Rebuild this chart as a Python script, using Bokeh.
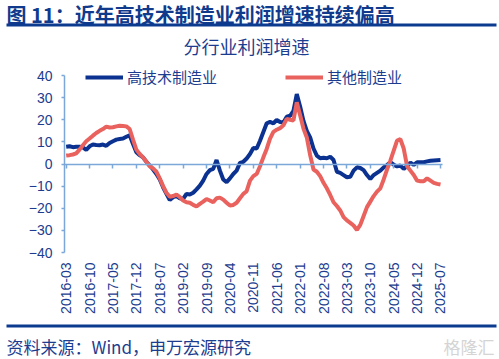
import numpy as np
import pandas as pd
from bokeh.plotting import figure
from bokeh.models import (Label, Legend, LegendItem, FixedTicker, LinearAxis, BoxAnnotation)
from bokeh.embed import file_html
from bokeh.resources import INLINE

# ---- data ----
months = [str(p) for p in pd.period_range("2016-03", "2025-07", freq="M")]
high_tech = [7.8, 8.0, 7.6, 7.8, 7.8, 7.5, 6.4, 8.0, 8.8, 8.6, 8.5, 8.8, 8.2, 9.5, 10.3, 11.0,
             11.3, 11.5, 12.3, 13.0, 9.0, 5.3, 4.0, 3.0, 1.0, -0.7, -2.5, -4.5, -7.0, -10.5,
             -13.5, -16.3, -15.0, -14.5, -15.5, -15.8, -13.5, -13.8, -13.0, -11.5, -9.8, -7.5,
             -4.5, -2.8, -2.2, 1.8, -3.0, -7.0, -8.2, -6.5, -4.5, -3.0, 0.5, 1.0, 2.5, 4.5,
             7.2, 7.0, 10.5, 14.5, 18.4, 19.0, 18.4, 19.9, 19.0, 18.8, 21.4, 21.8, 24.0, 31.6,
             26.0, 19.5, 15.0, 12.0, 7.0, 3.8, 2.6, 2.8, 2.6, 3.3, 1.8, -3.5, -4.0, -5.0,
             -6.0, -5.8, -3.0, -1.5, -1.8, -2.8, -5.0, -6.8, -5.0, -4.0, -3.0, -1.5, -0.5,
             0.8, -0.3, -1.1, -0.7, -2.2, -0.9, 0.6, -0.4, 0.8, 0.8, 0.8, 1.2, 1.5, 1.6, 1.7, 1.8]
other_mfg = [3.8, 4.0, 4.3, 4.8, 6.5, 8.5, 10.3, 11.5, 12.8, 14.0, 15.0, 15.8, 16.9, 16.5,
             16.6, 17.0, 17.3, 17.2, 17.0, 15.8, 11.0, 6.5, 4.5, 3.0, 1.0, -1.0, -2.0, -3.5,
             -6.5, -10.0, -13.0, -14.8, -14.5, -13.8, -15.0, -16.5, -17.3, -17.5, -18.5, -19.2,
             -18.0, -17.0, -15.8, -16.5, -17.3, -15.5, -15.2, -16.1, -17.5, -18.8, -18.5, -17.5,
             -15.5, -13.5, -12.3, -7.5, -5.5, -4.5, -1.0, 3.0, 6.8, 11.5, 14.5, 15.5, 16.2,
             17.5, 20.4, 20.0, 19.7, 27.9, 22.0, 16.0, 12.0, 4.0, -2.5, -3.5, -5.5, -8.5, -11.0,
             -14.0, -17.3, -19.0, -21.0, -24.0, -25.5, -26.6, -27.8, -29.8, -27.5, -23.5, -19.5,
             -17.0, -14.5, -12.5, -11.0, -7.0, -2.5, 1.5, 6.0, 10.6, 11.2, 7.0, -1.0, -3.0, -5.0,
             -7.5, -7.8, -7.8, -6.5, -7.5, -8.5, -9.0, -9.3]
series_names = ["高技术制造业", "其他制造业"]
y_ticks = [-40, -30, -20, -10, 0, 10, 20, 30, 40]
tick_idx = list(range(0, len(months), 7))
tick_labels = [months[i] for i in tick_idx]

BLUE = "#0b3290"
RED = "#e9625e"
AXIS = "#7ba7d9"
TEXT = "#1c3d8f"
RULE = "#0b3a8f"
FONT = "Liberation Sans"
CJK = "Noto Sans CJK SC"

W, H = 499, 359
# plotting area in page pixels (the whole canvas is the frame; axes are pinned)
FL, FR, FT, FB = 64, 442, 75, 252
X0, X1 = -0.5, 112.6
Y0, Y1 = -40, 40
kx = (FR - FL) / (X1 - X0)
ky = (FB - FT) / (Y1 - Y0)
x_range = (X0 - FL / kx, X1 + (W - FR) / kx)
y_range = (Y0 - (H - FB) / ky, Y1 + FT / ky)

x = list(range(len(months)))

p = figure(width=W, height=H, output_backend="svg", toolbar_location=None,
           x_range=x_range, y_range=y_range,
           min_border=0, min_border_left=0, min_border_right=0,
           min_border_top=0, min_border_bottom=0)
p.outline_line_color = None
p.xgrid.visible = False
p.ygrid.visible = False

# bottom axis: labels only, pinned at y = -40
xa = p.xaxis[0]
xa.fixed_location = Y0
xa.ticker = FixedTicker(ticks=tick_idx)
xa.major_label_overrides = {i: l for i, l in zip(tick_idx, tick_labels)}
xa.major_label_orientation = np.pi / 2
xa.axis_line_color = None
xa.major_tick_line_color = None
xa.minor_tick_line_color = None
xa.major_tick_out = 0
xa.major_tick_in = 0
xa.major_label_standoff = 10
xa.major_label_text_font = FONT
xa.major_label_text_font_size = "14px"
xa.major_label_text_color = TEXT

# zero-line axis with ticks
za = LinearAxis(ticker=FixedTicker(ticks=tick_idx), fixed_location=0, bounds=(X0, X1))
za.axis_line_color = AXIS
za.axis_line_width = 1.5
za.major_tick_line_color = AXIS
za.major_tick_line_width = 1.5
za.major_tick_out = 4
za.major_tick_in = 0
za.minor_tick_line_color = None
za.major_label_text_font_size = "0px"
za.major_label_text_color = None
p.add_layout(za, "below")

ya = p.yaxis[0]
ya.fixed_location = X0
ya.bounds = (Y0, Y1)
ya.ticker = FixedTicker(ticks=y_ticks)
ya.axis_line_color = AXIS
ya.axis_line_width = 1.5
ya.major_tick_line_color = AXIS
ya.major_tick_line_width = 1.5
ya.major_tick_out = 3
ya.major_tick_in = 0
ya.minor_tick_line_color = None
ya.major_label_standoff = 9
ya.major_label_text_font = FONT
ya.major_label_text_font_size = "14px"
ya.major_label_text_color = TEXT

r1 = p.line(x, high_tech, line_color=BLUE, line_width=4)
r2 = p.line(x, other_mfg, line_color=RED, line_width=4)


def sx(px):
    return px


def sy(py):
    return H - py


legend = Legend(items=[LegendItem(label=series_names[0], renderers=[r1]),
                       LegendItem(label=series_names[1], renderers=[r2])],
                orientation="horizontal", location=(sx(85), sy(87)),
                glyph_width=38, glyph_height=20, label_standoff=4, spacing=68,
                padding=0, margin=0, border_line_color=None, background_fill_alpha=0,
                label_text_font=CJK, label_text_font_size="15px", label_text_color=TEXT)
p.add_layout(legend, "center")

# header / footer texts (screen units, y up from the bottom)
p.add_layout(Label(x=sx(6), y=sy(14), x_units="screen", y_units="screen",
                   text="图 11：近年高技术制造业利润增速持续偏高", text_font=CJK,
                   text_font_size="20px", text_font_style="bold", text_color="#103a8c",
                   text_baseline="middle"))
p.add_layout(Label(x=sx(246), y=sy(45), x_units="screen", y_units="screen",
                   text="分行业利润增速", text_font=CJK, text_font_size="18px",
                   text_color=TEXT, text_align="center", text_baseline="middle"))
p.add_layout(Label(x=sx(6), y=sy(346), x_units="screen", y_units="screen",
                   text="资料来源：Wind，申万宏源研究", text_font=CJK, text_font_size="17px",
                   text_color=TEXT, text_baseline="middle"))
p.add_layout(Label(x=sx(494), y=sy(346), x_units="screen", y_units="screen",
                   text="格隆汇", text_font=CJK, text_font_size="17px",
                   text_color="#d4d4d4", text_align="right", text_baseline="middle"))

# rules under header and above footer
for top_py in (23, 324):
    p.add_layout(BoxAnnotation(left=sx(6), right=sx(496), top=sy(top_py), bottom=sy(top_py + 3),
                               left_units="screen", right_units="screen",
                               top_units="screen", bottom_units="screen",
                               fill_color=RULE, fill_alpha=1, line_color=None))

with open("out.html", "w") as f:
    f.write(file_html(p, INLINE))
